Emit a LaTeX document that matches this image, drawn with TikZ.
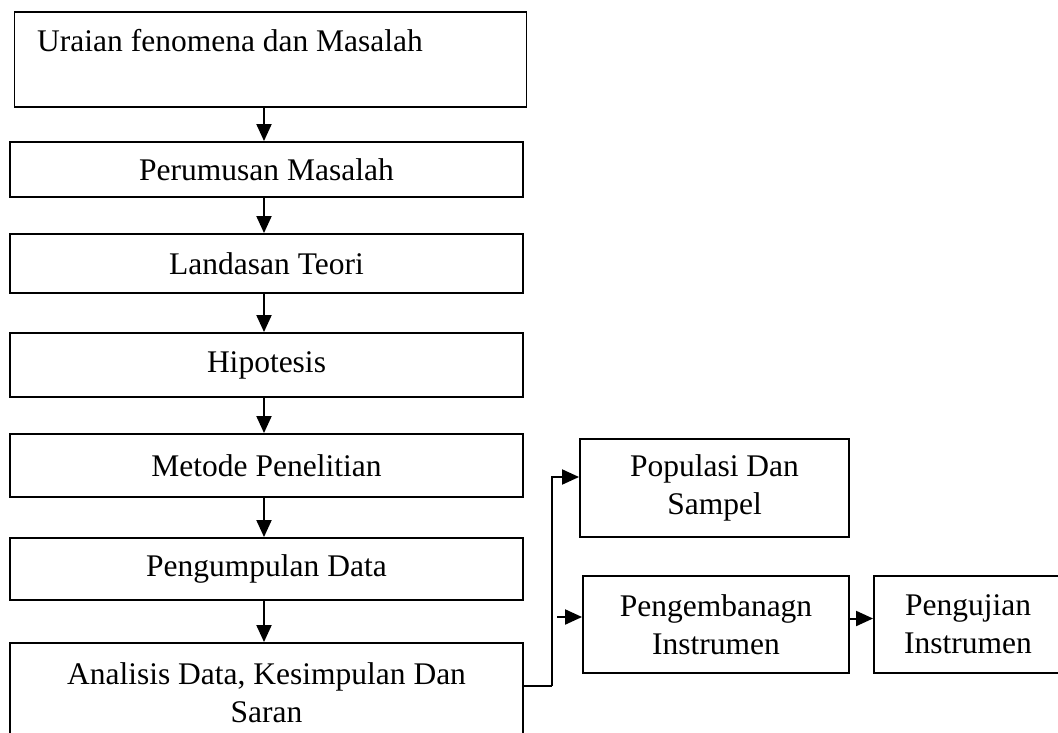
\documentclass[tikz,border=0pt]{standalone}
\usepackage{fontspec}
\setmainfont{Liberation Serif}
\usetikzlibrary{arrows.meta,calc}
\begin{document}
\begin{tikzpicture}[x=1pt,y=-1pt,
  box/.style={draw,line width=1.9pt,inner sep=0pt,align=center,
    font=\fontsize{31.5}{38}\selectfont},
  lbl/.style={inner sep=0pt,font=\fontsize{31.5}{38}\selectfont},
  arr/.style={line width=2pt,-{Triangle[length=17pt,width=15pt]}},
  conn/.style={line width=2pt}]
\useasboundingbox (0,0) rectangle (1058,733);
\clip (0,0) rectangle (1058,733);
\fill[white] (0,0) rectangle (1058,733);
% main column
\node[box,minimum width=512pt,minimum height=95pt] (b1) at (270.5,59.5) {};
\node[lbl,anchor=base west] (t1) at (37,52) {Uraian fenomena dan Masalah};
\node[box,minimum width=513pt,minimum height=55pt] (b2) at (266.5,169.5) {Perumusan Masalah};
\node[box,minimum width=513pt,minimum height=59pt] (b3) at (266.5,263.5) {Landasan Teori};
\node[box,minimum width=513pt,minimum height=64pt] (b4) at (266.5,365) {Hipotesis};
\node[box,minimum width=513pt,minimum height=63pt] (b5) at (266.5,465.5) {Metode Penelitian};
\node[box,minimum width=513pt,minimum height=62pt] (b6) at (266.5,569) {Pengumpulan Data};
\node[box,minimum width=513pt,minimum height=100pt] (b7) at (266.5,693) {Analisis Data, Kesimpulan Dan\\Saran};
% right side
\node[box,minimum width=269pt,minimum height=98pt] (pop) at (714.5,488) {Populasi Dan\\Sampel};
\node[box,minimum width=266pt,minimum height=97pt] (peng) at (716,624.5) {Pengembanagn\\Instrumen};
\node[box,minimum width=188pt,minimum height=97pt] (uji) at (968,624.5) {Pengujian\\Instrumen};
% vertical arrows
\draw[arr] (b1.south -| 264,0) -- (b2.north -| 264,0);
\draw[arr] (b2.south -| 264,0) -- (b3.north -| 264,0);
\draw[arr] (b3.south -| 264,0) -- (b4.north -| 264,0);
\draw[arr] (b4.south -| 264,0) -- (b5.north -| 264,0);
\draw[arr] (b5.south -| 264,0) -- (b6.north -| 264,0);
\draw[arr] (b6.south -| 264,0) -- (b7.north -| 264,0);
% branch connectors
\coordinate (j) at (552,686);
\coordinate (s) at (557,617);
\draw[conn] (b7.east |- j) -- (j);
\draw[arr] (j) |- ([yshift=11pt]pop.west);
\draw[arr] (s) -- (s -| peng.west);
\draw[arr] ([yshift=6pt]peng.east) -- ([yshift=6pt]uji.west);
\end{tikzpicture}
\end{document}
